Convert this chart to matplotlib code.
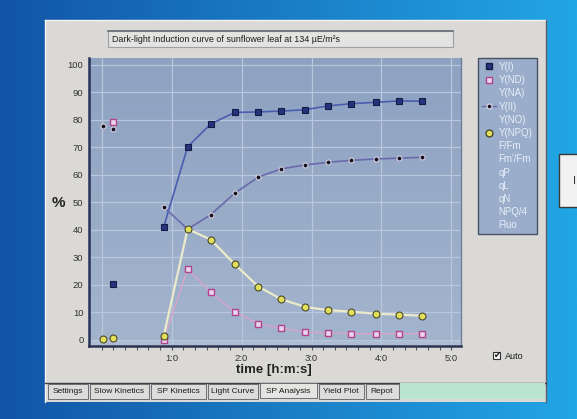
import numpy as np
import matplotlib
matplotlib.use("Agg")
import matplotlib.pyplot as plt
from matplotlib.patches import Rectangle
from matplotlib.lines import Line2D

plt.rcParams['font.family'] = ['Liberation Sans', 'DejaVu Sans']

# --- data (time in minutes, values in %) ---
t_dark = [0.02, 0.16]
t_light = [0.89, 1.23, 1.56, 1.90, 2.24, 2.57, 2.91, 3.24, 3.57, 3.92, 4.25, 4.58]

y1_dark = [20.4]            # Y(I) at 0.16 only
y1_light = [41.2, 70.2, 78.5, 82.7, 82.9, 83.2, 83.7, 85.1, 85.9, 86.4, 86.9, 86.8]
ynd_dark = [79.4]           # Y(ND) at 0.16 only
ynd_light = [0.1, 25.8, 17.5, 10.1, 5.9, 4.3, 2.9, 2.5, 2.3, 2.3, 2.3, 2.3]
y2_dark = [77.8, 76.8]
y2_light = [48.3, 40.3, 45.5, 53.3, 59.2, 62.2, 63.6, 64.6, 65.3, 65.8, 66.1, 66.4]
ynpq_dark = [0.3, 0.6]
ynpq_light = [1.6, 40.3, 36.5, 27.6, 19.4, 14.8, 12.0, 10.8, 10.3, 9.5, 9.2, 8.8]

x_ticks = [0, 1, 2, 3, 4, 5]
x_tick_labels = ['', '1:0', '2:0', '3:0', '4:0', '5:0']
y_ticks = list(range(0, 101, 10))

legend_names = ['Y(I)', 'Y(ND)', 'Y(NA)', 'Y(II)', 'Y(NO)', 'Y(NPQ)', 'F/Fm',
                "Fm'/Fm", 'qP', 'qL', 'qN', 'NPQ/4', 'Fluo']
tab_names = ['Settings', 'Slow Kinetics', 'SP Kinetics', 'Light Curve',
             'SP Analysis', 'Yield Plot', 'Repot']
title_text = 'Dark-light Induction curve of sunflower leaf at 134 \u00b5E/m\u00b2s'

W, H = 577, 419
fig = plt.figure(figsize=(W / 100, H / 100), dpi=100)

# --- window chrome drawn in pixel coordinates ---
bg = fig.add_axes([0, 0, 1, 1], zorder=0)
bg.set_xlim(0, W)
bg.set_ylim(H, 0)
bg.axis('off')

grad = np.linspace(0, 1, 256)
c0 = np.array([0x12, 0x55, 0xa6]) / 255
c1 = np.array([0x22, 0xa6, 0xe6]) / 255
img = (c0[None, :] * (1 - grad[:, None]) + c1[None, :] * grad[:, None])[None, :, :]
bg.imshow(img, extent=[0, W, H, 0], aspect='auto', zorder=0)

# panel
bg.add_patch(Rectangle((45, 20), 501, 382, facecolor='#dad9d6', edgecolor='none', zorder=1))
bg.plot([45, 546], [20, 20], color='#f4f4f4', lw=1, zorder=2)
bg.plot([45, 45], [20, 402], color='#f4f4f4', lw=1, zorder=2)
bg.plot([546, 546], [20, 402], color='#5a6068', lw=1, zorder=2)

# title box
bg.add_patch(Rectangle((108, 31), 345, 16, facecolor='#e3e3e1', edgecolor='#9aa0a6', lw=0.8, zorder=2))
bg.plot([108, 453], [31.5, 31.5], color='#6d747c', lw=1.3, zorder=3)
bg.text(112, 39.5, title_text, fontsize=6.4, color='#1c1c1c', va='center', ha='left', zorder=4)

# tab bar
bg.plot([45, 546], [382.5, 382.5], color='#3c4148', lw=1, zorder=3)
tab_edges = [48, 89.5, 150.5, 207.5, 259.5, 318.5, 365.5, 400]
for i, name in enumerate(tab_names):
    x0, x1 = tab_edges[i], tab_edges[i + 1] - 1.5
    selected = name == 'SP Analysis'
    face = '#e4e4e2' if selected else '#dcdcda'
    top = 383 if selected else 384
    bg.add_patch(Rectangle((x0, top), x1 - x0, 14.5, facecolor=face, edgecolor='#6a6e74', lw=0.7, zorder=3))
    bg.text((x0 + x1) / 2, top + 8 if selected else 391, name, fontsize=6, color='#1a1a1a',
            ha='center', va='center', zorder=4)
bg.add_patch(Rectangle((400, 383), 145, 16, facecolor='#b9e4cf', edgecolor='none', zorder=3))

# Auto checkbox
bg.add_patch(Rectangle((493, 352), 7, 7, facecolor='#f4f4f4', edgecolor='#303030', lw=0.8, zorder=3))
bg.text(496.5, 355.5, '\u2714', fontsize=6, family='DejaVu Sans', color='#101010',
        ha='center', va='center', zorder=4)
bg.text(505, 356, 'Auto', fontsize=6.5, color='#1a1a1a', ha='left', va='center', zorder=4)

# partial window on the right
bg.add_patch(Rectangle((559, 154), 30, 53, facecolor='#f2f2f2', edgecolor='#3a3a3a', lw=1, zorder=2))
bg.text(573, 181, 'I', fontsize=8, color='#303030', ha='left', va='center', zorder=3)

# axis titles
bg.text(58, 203, '%', fontsize=11, fontweight='bold', color='#222222', ha='center', va='center', zorder=4)
bg.text(274, 370, 'time [h:m:s]', fontsize=9.5, fontweight='bold', color='#222222',
        ha='center', va='center', zorder=4)

# --- chart ---
ax = fig.add_axes([89 / W, 1 - 346 / H, (461 - 89) / W, (346 - 58) / H], zorder=2)
ax.set_facecolor('#9aadc8')
shade = np.linspace(0, 1, 64)[:, None]
ax.imshow(shade, cmap=matplotlib.colors.LinearSegmentedColormap.from_list('bgc', ['#8da2c1', '#a3b4cd']),
          extent=[0, 1, 0, 1], transform=ax.transAxes, aspect='auto', zorder=0)
ax.axhspan(-2.2, -0.4, color='#aebdd3', zorder=0.5, lw=0)

ax.plot(t_light, y1_light, color='#4a5db0', lw=1.2, zorder=3)
ax.plot(t_dark[1:], y1_dark, ls='none', marker='s', ms=4.5, mfc='#26347e', mec='#141c46', mew=0.8, zorder=5)
ax.plot(t_light, y1_light, ls='none', marker='s', ms=4.5, mfc='#26347e', mec='#141c46', mew=0.8, zorder=5)

ax.plot(t_light, ynd_light, color='#d8a4cb', lw=1.0, zorder=3)
ax.plot(t_dark[1:] + t_light, ynd_dark + ynd_light, ls='none', marker='s', ms=4.3,
        mfc='#e8d4ec', mec='#b0448e', mew=1.0, zorder=5)

ax.plot(t_light, y2_light, color='#6b6aaa', lw=1.2, zorder=3)
ax.plot(t_dark + t_light, y2_dark + y2_light, ls='none', marker='o', ms=3.6,
        mfc='#151522', mec='#d6d0e2', mew=0.8, zorder=5)

ax.plot(t_light, ynpq_light, color='#ebeacb', lw=1.6, zorder=4)
ax.plot(t_dark + t_light, ynpq_dark + ynpq_light, ls='none', marker='o', ms=5,
        mfc='#e2e05a', mec='#4c4a2c', mew=0.8, zorder=6)

ax.set_xlim(-0.179, 5.136)
ax.set_ylim(-2.2, 102.5)
ax.set_xticks(x_ticks)
ax.set_xticklabels(x_tick_labels)
ax.set_xticks(np.arange(0, 5.01, 1 / 6), minor=True)
ax.set_yticks(y_ticks)
ax.grid(True, color='#b8c7db', lw=0.9, zorder=1)
ax.set_axisbelow(True)
ax.tick_params(axis='x', which='both', direction='out', length=3, width=0.8, color='#50555e',
               labelsize=6.8, labelcolor='#333333', pad=2.5)
ax.tick_params(axis='y', length=0, labelsize=6.8, labelcolor='#333333', pad=4)
ax.spines['top'].set_visible(False)
ax.spines['left'].set_color('#27325a')
ax.spines['left'].set_linewidth(1.8)
ax.spines['bottom'].set_color('#2d3350')
ax.spines['bottom'].set_linewidth(1.8)
ax.spines['right'].set_color('#6f7f9a')
ax.spines['right'].set_linewidth(1.0)

# legend
styles = {
    'Y(I)': dict(marker='s', ms=4.5, mfc='#26347e', mec='#141c46', ls='none'),
    'Y(ND)': dict(marker='s', ms=4.3, mfc='#e8d4ec', mec='#b0448e', ls='none'),
    'Y(II)': dict(marker='o', ms=3.6, mfc='#151522', mec='#d6d0e2', color='#6b6aaa', ls='-', lw=1.0),
    'Y(NPQ)': dict(marker='o', ms=5, mfc='#e2e05a', mec='#4c4a2c', ls='none'),
}
handles = [Line2D([], [], **styles.get(n, dict(ls='none', marker=None))) for n in legend_names]
leg = ax.legend(handles, legend_names, loc='upper left', bbox_to_anchor=(478 / W, 1 - 58 / H, 59 / W, 0),
                bbox_transform=fig.transFigure, mode='expand', borderaxespad=0, fontsize=7,
                labelcolor='#e8eef8', handlelength=1.4, handletextpad=0.3, labelspacing=0.33,
                borderpad=0.4, fancybox=False, framealpha=1, facecolor='#9aaecb', edgecolor='#4a5262')
leg.get_frame().set_linewidth(1.0)

fig.savefig('out.png', dpi=100)
